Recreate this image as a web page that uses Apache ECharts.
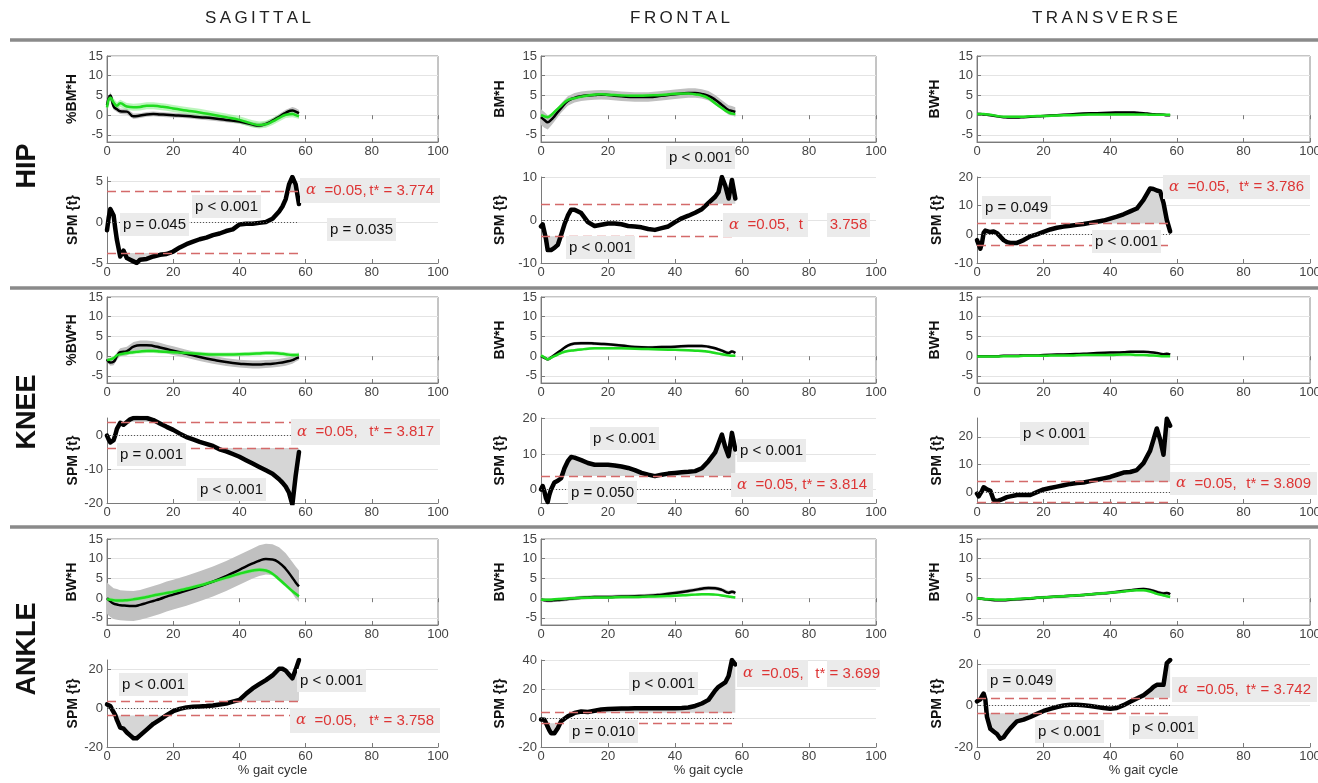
<!DOCTYPE html>
<html>
<head>
<meta charset="utf-8">
<script src="https://cdn.jsdelivr.net/npm/echarts@6.0.0/dist/echarts.min.js"></script>
<style>
html, body { margin: 0; padding: 0; background: #fff; }
#chart { width: 1318px; height: 783px; }
</style>
</head>
<body>
<div id="chart"></div>
<script>
// ---------- data ----------
const planes = ['SAGITTAL', 'FRONTAL', 'TRANSVERSE'];
const joints = ['HIP', 'KNEE', 'ANKLE'];
const momentUnits = [['%BM*H', 'BM*H', 'BW*H'], ['%BW*H', 'BW*H', 'BW*H'], ['BW*H', 'BW*H', 'BW*H']];
const momentTicks = [-5, 0, 5, 10, 15];

// % gait cycle samples for the moment curves
const momentX = [0, 1, 2, 3, 4, 6, 8, 10, 12, 14, 16, 18, 20, 24, 28, 32, 36, 40, 44, 46, 48, 50, 52, 54, 56, 57, 58];

const hipSagBlack   = [2.5, 5.0, 2.2, 1.5, 1.0, 0.9, -0.3, -0.1, 0.2, 0.3, 0.2, 0.1, 0.0, -0.2, -0.5, -0.8, -1.2, -1.6, -2.4, -2.6, -2.2, -1.4, -0.4, 0.6, 1.2, 0.9, 0.5];
const hipSagBlackSd = [0.8, 0.9, 0.8, 0.7, 0.7, 0.7, 0.7, 0.6, 0.6, 0.6, 0.6, 0.6, 0.6, 0.6, 0.6, 0.6, 0.6, 0.6, 0.6, 0.6, 0.6, 0.6, 0.7, 0.8, 0.9, 0.9, 0.8];
const hipSagGreen   = [2.0, 4.5, 3.2, 2.4, 3.0, 2.2, 2.0, 2.1, 2.4, 2.4, 2.2, 2.0, 1.7, 1.2, 0.7, 0.1, -0.5, -1.2, -2.2, -2.5, -2.3, -1.6, -0.7, 0.1, 0.3, 0.0, -0.3];
const hipSagGreenSd = [0.9, 1.0, 1.0, 0.9, 0.9, 0.9, 0.9, 0.9, 0.9, 0.9, 0.9, 0.9, 0.9, 0.9, 0.9, 0.9, 0.9, 0.9, 0.9, 0.9, 0.9, 0.9, 0.9, 0.8, 0.8, 0.7, 0.7];

const hipFrontBlack   = [-0.5, -1.2, -1.8, -1.2, -0.3, 1.8, 3.6, 4.4, 4.8, 5.0, 5.1, 5.2, 5.1, 4.8, 4.6, 4.6, 4.9, 5.3, 5.6, 5.6, 5.4, 4.9, 3.9, 2.6, 1.3, 1.1, 0.8];
const hipFrontBlackSd = [2.0, 2.0, 1.8, 1.5, 1.3, 1.2, 1.2, 1.2, 1.2, 1.2, 1.2, 1.2, 1.2, 1.2, 1.2, 1.2, 1.2, 1.2, 1.2, 1.2, 1.2, 1.2, 1.2, 1.2, 1.2, 1.2, 1.2];
const hipFrontGreen   = [0.0, -0.3, -0.5, 0.0, 0.8, 2.4, 3.8, 4.3, 4.7, 5.0, 5.2, 5.3, 5.2, 5.0, 4.9, 5.0, 5.1, 5.4, 5.5, 5.3, 5.0, 4.3, 3.0, 1.8, 0.7, 0.4, 0.3];
const hipFrontGreenSd = [0.4, 0.4, 0.4, 0.4, 0.4, 0.4, 0.4, 0.4, 0.4, 0.4, 0.4, 0.4, 0.4, 0.4, 0.4, 0.4, 0.4, 0.4, 0.4, 0.4, 0.4, 0.4, 0.4, 0.4, 0.4, 0.4, 0.4];

const hipTransBlack   = [0.3, 0.3, 0.2, 0.1, 0.0, -0.3, -0.5, -0.6, -0.6, -0.5, -0.4, -0.3, -0.2, 0.0, 0.2, 0.4, 0.5, 0.6, 0.7, 0.7, 0.6, 0.5, 0.3, 0.2, 0.1, 0.0, 0.0];
const hipTransBlackSd = [0.3, 0.3, 0.3, 0.3, 0.3, 0.3, 0.3, 0.3, 0.3, 0.3, 0.3, 0.3, 0.3, 0.3, 0.3, 0.3, 0.3, 0.3, 0.3, 0.3, 0.3, 0.3, 0.3, 0.3, 0.3, 0.3, 0.3];
const hipTransGreen   = [0.3, 0.3, 0.3, 0.2, 0.1, -0.2, -0.4, -0.4, -0.4, -0.4, -0.3, -0.2, -0.2, -0.1, 0.0, 0.1, 0.2, 0.2, 0.2, 0.2, 0.2, 0.2, 0.1, 0.1, 0.1, 0.1, 0.1];
const hipTransGreenSd = [0.25, 0.25, 0.25, 0.25, 0.25, 0.25, 0.25, 0.25, 0.25, 0.25, 0.25, 0.25, 0.25, 0.25, 0.25, 0.25, 0.25, 0.25, 0.25, 0.25, 0.25, 0.25, 0.25, 0.25, 0.25, 0.25, 0.25];

const kneeSagBlack   = [-0.8, -1.6, -1.4, 0.0, 1.0, 1.3, 2.4, 2.8, 2.8, 2.6, 2.2, 1.8, 1.4, 0.6, -0.2, -0.9, -1.5, -1.9, -2.1, -2.1, -2.0, -1.9, -1.7, -1.4, -1.0, -0.6, -0.3];
const kneeSagBlackSd = [0.6, 0.8, 0.9, 1.0, 1.0, 1.1, 1.2, 1.2, 1.2, 1.2, 1.2, 1.1, 1.1, 1.0, 1.0, 1.0, 1.0, 1.0, 1.0, 1.0, 1.0, 1.0, 1.0, 1.0, 0.9, 0.8, 0.7];
const kneeSagGreen   = [-1.0, -0.8, -0.5, 0.2, 0.5, 0.8, 1.0, 1.2, 1.3, 1.3, 1.2, 1.1, 1.0, 0.8, 0.6, 0.4, 0.4, 0.5, 0.6, 0.7, 0.8, 0.8, 0.7, 0.5, 0.3, 0.3, 0.4];
const kneeSagGreenSd = [0.5, 0.5, 0.5, 0.5, 0.5, 0.5, 0.5, 0.5, 0.5, 0.5, 0.5, 0.5, 0.5, 0.5, 0.5, 0.5, 0.5, 0.5, 0.5, 0.5, 0.5, 0.5, 0.5, 0.5, 0.5, 0.5, 0.5];

const kneeFrontBlack   = [0.0, -0.4, -0.8, -0.3, 0.3, 1.5, 2.7, 3.2, 3.3, 3.3, 3.2, 3.1, 3.0, 2.7, 2.3, 2.2, 2.3, 2.4, 2.6, 2.6, 2.6, 2.4, 2.0, 1.4, 0.8, 1.2, 0.8];
const kneeFrontBlackSd = [0.4, 0.4, 0.4, 0.4, 0.4, 0.4, 0.4, 0.4, 0.4, 0.4, 0.4, 0.4, 0.4, 0.4, 0.4, 0.4, 0.4, 0.4, 0.4, 0.4, 0.4, 0.4, 0.4, 0.4, 0.4, 0.4, 0.4];
const kneeFrontGreen   = [0.2, -0.3, -0.8, -0.4, 0.0, 0.8, 1.3, 1.5, 1.7, 1.9, 2.0, 2.0, 2.0, 2.0, 1.9, 1.8, 1.7, 1.6, 1.5, 1.4, 1.3, 1.1, 0.8, 0.5, 0.2, 0.1, 0.1];
const kneeFrontGreenSd = [0.3, 0.3, 0.3, 0.3, 0.3, 0.3, 0.3, 0.3, 0.3, 0.3, 0.3, 0.3, 0.3, 0.3, 0.3, 0.3, 0.3, 0.3, 0.3, 0.3, 0.3, 0.3, 0.3, 0.3, 0.3, 0.3, 0.3];

const kneeTransBlack   = [0.0, 0.0, 0.0, 0.0, 0.0, 0.0, 0.1, 0.1, 0.1, 0.2, 0.2, 0.2, 0.3, 0.4, 0.5, 0.6, 0.8, 0.9, 1.0, 1.1, 1.1, 1.1, 1.0, 0.8, 0.5, 0.6, 0.4];
const kneeTransBlackSd = [0.25, 0.25, 0.25, 0.25, 0.25, 0.25, 0.25, 0.25, 0.25, 0.25, 0.25, 0.25, 0.25, 0.25, 0.25, 0.25, 0.25, 0.25, 0.25, 0.25, 0.25, 0.25, 0.25, 0.25, 0.25, 0.25, 0.25];
const kneeTransGreen   = [-0.1, -0.1, -0.1, -0.1, -0.1, -0.1, 0.0, 0.0, 0.0, 0.1, 0.1, 0.1, 0.1, 0.2, 0.2, 0.3, 0.3, 0.3, 0.4, 0.4, 0.3, 0.3, 0.2, 0.1, 0.0, 0.0, 0.0];
const kneeTransGreenSd = [0.2, 0.2, 0.2, 0.2, 0.2, 0.2, 0.2, 0.2, 0.2, 0.2, 0.2, 0.2, 0.2, 0.2, 0.2, 0.2, 0.2, 0.2, 0.2, 0.2, 0.2, 0.2, 0.2, 0.2, 0.2, 0.2, 0.2];

const ankleSagBlack   = [0.0, -0.8, -1.4, -1.6, -1.8, -1.9, -2.0, -1.7, -1.2, -0.7, -0.2, 0.4, 0.9, 1.9, 3.0, 4.2, 5.6, 7.2, 8.8, 9.5, 9.9, 9.8, 9.0, 7.4, 5.2, 4.0, 3.0];
const ankleSagBlackSd = [4.0, 4.0, 3.9, 3.9, 3.8, 3.8, 3.8, 3.8, 3.8, 3.8, 3.8, 3.8, 3.8, 3.8, 3.8, 3.8, 3.8, 3.8, 3.8, 3.9, 3.9, 3.9, 3.9, 4.0, 4.0, 4.0, 4.0];
const ankleSagGreen   = [-0.3, -0.4, -0.5, -0.6, -0.6, -0.5, -0.3, 0.0, 0.3, 0.7, 1.0, 1.3, 1.6, 2.4, 3.2, 4.2, 5.2, 6.2, 7.0, 7.2, 7.0, 6.2, 4.8, 3.3, 1.8, 1.1, 0.5];
const ankleSagGreenSd = [0.5, 0.5, 0.5, 0.5, 0.5, 0.5, 0.5, 0.5, 0.5, 0.5, 0.5, 0.5, 0.5, 0.5, 0.5, 0.5, 0.5, 0.5, 0.5, 0.5, 0.5, 0.5, 0.5, 0.5, 0.5, 0.5, 0.5];

const ankleFrontBlack   = [-0.3, -0.5, -0.6, -0.6, -0.5, -0.4, -0.2, 0.0, 0.1, 0.2, 0.3, 0.3, 0.3, 0.4, 0.5, 0.6, 0.9, 1.3, 1.8, 2.1, 2.4, 2.6, 2.5, 2.1, 1.4, 1.6, 1.3];
const ankleFrontBlackSd = [0.5, 0.5, 0.5, 0.5, 0.5, 0.5, 0.5, 0.5, 0.5, 0.5, 0.5, 0.5, 0.5, 0.5, 0.5, 0.5, 0.5, 0.5, 0.5, 0.5, 0.5, 0.5, 0.5, 0.5, 0.5, 0.5, 0.5];
const ankleFrontGreen   = [-0.4, -0.4, -0.4, -0.4, -0.3, -0.2, -0.1, 0.0, 0.1, 0.1, 0.2, 0.2, 0.2, 0.3, 0.3, 0.4, 0.5, 0.6, 0.8, 0.9, 1.0, 1.0, 0.9, 0.7, 0.4, 0.3, 0.2];
const ankleFrontGreenSd = [0.3, 0.3, 0.3, 0.3, 0.3, 0.3, 0.3, 0.3, 0.3, 0.3, 0.3, 0.3, 0.3, 0.3, 0.3, 0.3, 0.3, 0.3, 0.3, 0.3, 0.3, 0.3, 0.3, 0.3, 0.3, 0.3, 0.3];

const ankleTransBlack   = [0.0, -0.1, -0.2, -0.3, -0.4, -0.5, -0.5, -0.4, -0.3, -0.2, -0.1, 0.1, 0.2, 0.4, 0.6, 0.8, 1.1, 1.4, 1.8, 2.0, 2.2, 2.3, 2.1, 1.6, 1.2, 1.3, 1.0];
const ankleTransBlackSd = [0.4, 0.4, 0.4, 0.4, 0.4, 0.4, 0.4, 0.4, 0.4, 0.4, 0.4, 0.4, 0.4, 0.4, 0.4, 0.4, 0.4, 0.4, 0.4, 0.4, 0.4, 0.4, 0.4, 0.4, 0.4, 0.4, 0.4];
const ankleTransGreen   = [0.0, -0.1, -0.2, -0.3, -0.3, -0.4, -0.4, -0.3, -0.2, -0.1, 0.0, 0.1, 0.2, 0.4, 0.6, 0.8, 1.1, 1.4, 1.7, 1.9, 2.0, 2.0, 1.7, 1.1, 0.7, 0.5, 0.3];
const ankleTransGreenSd = [0.3, 0.3, 0.3, 0.3, 0.3, 0.3, 0.3, 0.3, 0.3, 0.3, 0.3, 0.3, 0.3, 0.3, 0.3, 0.3, 0.3, 0.3, 0.3, 0.3, 0.3, 0.3, 0.3, 0.3, 0.3, 0.3, 0.3];

// % gait cycle samples for the SPM{t} curves
const spmX = [0, 0.5, 1, 1.5, 2, 2.5, 3, 4, 5, 6, 7, 8, 9, 10, 12, 14, 16, 18, 20, 22, 24, 26, 28, 30, 32, 34, 36, 38, 40, 42, 44, 46, 48, 50, 52, 53, 54, 55, 56, 57, 58];

const hipSagSpm    = [-1.0, 0.5, 1.6, 1.7, 0.8, -0.8, -2.2, -4.2, -3.5, -4.4, -4.6, -4.8, -5.0, -4.6, -4.5, -4.2, -4.0, -3.9, -3.6, -3.1, -2.7, -2.4, -2.1, -1.9, -1.6, -1.4, -1.1, -0.9, -0.3, -0.2, -0.2, -0.1, 0.0, 0.4, 1.3, 1.9, 2.8, 4.6, 5.5, 4.6, 2.2];
const hipFrontSpm  = [-1.5, -1.0, -1.3, -4.5, -7.0, -7.2, -7.0, -6.5, -5.8, -3.5, -1.0, 1.0, 2.4, 2.4, 1.6, -0.5, -1.4, -1.1, -0.8, -0.8, -1.0, -1.4, -1.5, -1.7, -2.1, -2.3, -1.9, -1.5, -0.5, 0.4, 1.0, 1.7, 2.5, 4.0, 5.4, 6.5, 10.0, 8.0, 5.0, 9.3, 5.0];
const hipTransSpm  = [-2.0, -3.5, -5.0, -3.0, 0.5, 1.3, 1.5, 0.8, 1.0, 0.4, -0.8, -2.0, -2.7, -3.0, -3.0, -2.0, -0.7, 0.0, 0.9, 1.7, 2.3, 2.7, 3.0, 3.3, 3.6, 4.0, 4.4, 4.8, 5.5, 6.2, 7.0, 8.0, 9.0, 12.0, 16.0, 15.8, 15.3, 15.0, 11.0, 5.0, 1.0];
const kneeSagSpm   = [-0.2, -1.3, -2.2, -2.0, -1.5, 0.0, 1.8, 3.6, 3.0, 3.8, 4.6, 5.0, 5.1, 5.0, 5.0, 4.4, 3.4, 2.4, 1.5, 0.4, -0.6, -1.3, -2.0, -2.6, -3.2, -4.2, -4.8, -5.6, -6.4, -7.4, -8.4, -9.4, -10.4, -11.4, -13.0, -14.0, -15.2, -17.0, -20.5, -12.0, -5.0];
const kneeFrontSpm = [0.0, 1.0, -0.5, -2.5, -3.5, -1.5, 0.0, 2.0, 2.5, 3.2, 6.0, 8.0, 9.2, 9.0, 8.3, 7.5, 7.0, 7.0, 7.0, 6.8, 6.5, 6.1, 5.5, 4.7, 4.2, 3.8, 4.2, 4.5, 4.7, 4.9, 5.0, 5.2, 6.0, 8.0, 10.5, 13.0, 15.5, 12.0, 9.4, 16.0, 11.3];
const kneeTransSpm = [-0.5, -1.5, -1.0, 0.5, 1.8, 1.3, 1.0, 0.5, -2.8, -3.2, -2.8, -2.3, -1.8, -1.5, -1.0, -1.0, -1.0, 0.0, 1.0, 1.5, 2.0, 2.5, 3.0, 3.3, 3.5, 4.0, 4.5, 5.0, 5.5, 6.3, 7.1, 7.3, 8.0, 10.5, 15.0, 19.0, 23.0, 19.0, 13.5, 26.5, 24.0];
const ankleSagSpm  = [2.0, 1.8, 1.2, -0.5, -2.0, -3.5, -6.0, -10.0, -10.5, -12.5, -14.0, -15.5, -15.5, -14.0, -11.0, -8.0, -5.8, -3.5, -1.5, -0.3, 0.5, 0.8, 1.0, 1.2, 1.5, 2.0, 2.5, 3.5, 4.4, 7.5, 10.3, 12.5, 14.6, 17.0, 20.5, 20.5, 19.5, 17.5, 15.5, 20.0, 25.0];
const ankleFrontSpm = [-1.0, -1.2, -1.2, -3.5, -6.0, -8.5, -10.5, -10.5, -7.0, -2.3, -0.5, 1.2, 2.3, 3.5, 4.5, 4.2, 5.0, 5.8, 6.2, 6.4, 6.5, 6.6, 6.7, 6.8, 6.8, 6.8, 6.8, 6.8, 6.8, 6.9, 7.2, 8.3, 10.0, 12.5, 19.0, 21.5, 23.0, 24.5, 29.0, 40.0, 37.0];
const ankleTransSpm = [2.0, 2.5, 3.0, 4.5, 5.8, 3.0, -5.5, -11.2, -12.5, -13.7, -16.0, -15.3, -13.0, -11.0, -7.6, -6.8, -5.5, -4.0, -2.6, -1.6, -0.7, 0.0, 0.4, 0.4, 0.2, -0.2, -0.7, -1.2, -1.5, -1.2, 0.2, 1.8, 3.4, 5.0, 7.5, 9.0, 10.0, 10.0, 10.0, 20.5, 22.0];

const thresholds = [3.774, 3.758, 3.786, 3.817, 3.814, 3.809, 3.758, 3.699, 3.742];
const spmRanges = [[-5, 5.5], [-10, 10], [-10, 20], [-20, 5], [-3.8, 20.2], [-3.9, 26.8], [-20, 25], [-20, 40], [-20, 22]];
const spmTicks = [[-5, 0, 5], [-10, 0, 10], [-10, 0, 10, 20], [-20, -10, 0], [0, 10, 20], [0, 10, 20], [-20, 0, 20], [-20, 0, 20, 40], [-20, 0, 20]];

const blackMeans = [hipSagBlack, hipFrontBlack, hipTransBlack, kneeSagBlack, kneeFrontBlack, kneeTransBlack, ankleSagBlack, ankleFrontBlack, ankleTransBlack];
const blackSds = [hipSagBlackSd, hipFrontBlackSd, hipTransBlackSd, kneeSagBlackSd, kneeFrontBlackSd, kneeTransBlackSd, ankleSagBlackSd, ankleFrontBlackSd, ankleTransBlackSd];
const greenMeans = [hipSagGreen, hipFrontGreen, hipTransGreen, kneeSagGreen, kneeFrontGreen, kneeTransGreen, ankleSagGreen, ankleFrontGreen, ankleTransGreen];
const greenSds = [hipSagGreenSd, hipFrontGreenSd, hipTransGreenSd, kneeSagGreenSd, kneeFrontGreenSd, kneeTransGreenSd, ankleSagGreenSd, ankleFrontGreenSd, ankleTransGreenSd];
const spmCurves = [hipSagSpm, hipFrontSpm, hipTransSpm, kneeSagSpm, kneeFrontSpm, kneeTransSpm, ankleSagSpm, ankleFrontSpm, ankleTransSpm];

// p-value labels per panel
const pTexts = [
  ['p < 0.001', 'p = 0.045', 'p = 0.035'],
  ['p < 0.001', 'p < 0.001'],
  ['p = 0.049', 'p < 0.001'],
  ['p = 0.001', 'p < 0.001'],
  ['p < 0.001', 'p < 0.001', 'p = 0.050'],
  ['p < 0.001'],
  ['p < 0.001', 'p < 0.001'],
  ['p < 0.001', 'p = 0.010'],
  ['p = 0.049', 'p < 0.001', 'p < 0.001']
];

// ---------- layout ----------
const FONT = '"Liberation Sans", Arial, sans-serif';
const colLeft = [107, 541, 977];
const colWidth = [331, 335, 333];
const momentTop = [56, 297, 539];
const spmTop = [177, 418, 660];
const spmHeight = [86, 85, 87];
const momentHeight = 86;
const momentNameGap = [28, 34, 35];
const spmNameGap = [27, 34, 33];
const titleX = [258, 680, 1105];
const rowLabelY = [166, 412, 649];
const separatorY = [40, 288, 527];

// p boxes: [x, y] top-left, same order as pTexts
const pBoxPos = [
  [[192, 195], [120, 213], [327, 218]],
  [[666, 146], [566, 236]],
  [[982, 196], [1092, 230]],
  [[117, 443], [197, 478]],
  [[590, 427], [737, 439], [568, 481]],
  [[1020, 422]],
  [[119, 673], [297, 669]],
  [[629, 672], [569, 720]],
  [[987, 669], [1035, 720], [1129, 716]]
];
// red threshold boxes: [x, y, w, h]; split boxes have a second part
const alphaBoxes = [
  [[300, 178, 140, 25]],
  [[723, 213, 85, 24], [827, 213, 43, 24]],
  [[1163, 175, 147, 24]],
  [[291, 419, 149, 26]],
  [[731, 473, 142, 24]],
  [[1170, 472, 147, 23]],
  [[290, 708, 150, 25]],
  [[737, 660, 71, 27], [827, 660, 53, 27]],
  [[1172, 677, 145, 25]]
];

const RED = '#dd3535';
const BOX = '#ebebeb';

const grids = [], xAxes = [], yAxes = [], series = [], graphics = [];

function baseXAxis(gridIndex, extra) {
  return Object.assign({
    gridIndex, type: 'value', min: 0, max: 100, interval: 20,
    axisLine: { show: true, onZero: false, lineStyle: { color: '#7a7a7a', width: 1 } },
    axisTick: { show: true, inside: true, length: 4, lineStyle: { color: '#7a7a7a' } },
    axisLabel: { color: '#444', fontSize: 13, margin: 3, fontFamily: FONT },
    splitLine: { show: false }
  }, extra || {});
}

// mean ± sd band as one polygon, placed through the axes with api.coord
function bandSeries(xi, yi, mean, sd, color) {
  return {
    type: 'custom', xAxisIndex: xi, yAxisIndex: yi, silent: true, z: 1, clip: true,
    data: [[0, 0]], encode: { x: 0, y: 1 },
    renderItem: function (params, api) {
      const upper = mean.map((m, i) => api.coord([momentX[i], m + sd[i]]));
      const lower = mean.map((m, i) => api.coord([momentX[i], m - sd[i]])).reverse();
      return { type: 'polygon', shape: { points: upper.concat(lower) }, style: { fill: color } };
    }
  };
}

for (let r = 0; r < 3; r++) {
  for (let c = 0; c < 3; c++) {
    const k = r * 3 + c;

    // ---- moment subplot ----
    const gi = grids.length;
    grids.push({ left: colLeft[c], top: momentTop[r], width: colWidth[c], height: momentHeight,
      show: true, borderColor: '#8a8a8a', borderWidth: 1, backgroundColor: 'transparent', outerBoundsMode: 'none' });
    const xi = xAxes.length;
    xAxes.push(baseXAxis(gi));
    xAxes.push(baseXAxis(gi, { position: 'top', axisLine: { show: false }, axisLabel: { show: false } }));
    const yi = yAxes.length;
    yAxes.push({
      gridIndex: gi, type: 'value', min: -6.8, max: 15,
      axisLine: { show: true, lineStyle: { color: '#7a7a7a' } },
      axisTick: { show: true, inside: true, length: 4, customValues: momentTicks, lineStyle: { color: '#7a7a7a' } },
      axisLabel: { customValues: momentTicks, color: '#444', fontSize: 13, margin: 4, fontFamily: FONT },
      splitLine: { show: true, lineStyle: { color: '#e4e4e4' } },
      name: momentUnits[r][c], nameLocation: 'middle', nameRotate: 90, nameGap: momentNameGap[c],
      nameTextStyle: { fontSize: 14, fontWeight: 'bold', color: '#111', fontFamily: FONT }
    });
    series.push(bandSeries(xi, yi, blackMeans[k], blackSds[k], 'rgb(192,192,192)'));
    series.push(bandSeries(xi, yi, greenMeans[k], greenSds[k], 'rgba(120,235,120,0.5)'));
    series.push({ type: 'line', xAxisIndex: xi, yAxisIndex: yi, symbol: 'none', smooth: true, z: 3,
      data: blackMeans[k].map((v, i) => [momentX[i], v]), lineStyle: { color: '#000', width: 2.5 } });
    series.push({ type: 'line', xAxisIndex: xi, yAxisIndex: yi, symbol: 'none', smooth: true, z: 4,
      data: greenMeans[k].map((v, i) => [momentX[i], v]), lineStyle: { color: '#1fdc1f', width: 2.5 } });

    // ---- SPM{t} subplot ----
    const gs = grids.length;
    grids.push({ left: colLeft[c], top: spmTop[r], width: colWidth[c], height: spmHeight[r], outerBoundsMode: 'none' });
    const xs = xAxes.length;
    xAxes.push(baseXAxis(gs, r === 2 ? {
      name: '% gait cycle', nameLocation: 'middle', nameGap: 16,
      nameTextStyle: { fontSize: 13, color: '#333', fontFamily: FONT }
    } : {}));
    const ys = yAxes.length;
    yAxes.push({
      gridIndex: gs, type: 'value', min: spmRanges[k][0], max: spmRanges[k][1],
      axisLine: { show: true, lineStyle: { color: '#7a7a7a' } },
      axisTick: { show: true, inside: true, length: 4, customValues: spmTicks[k], lineStyle: { color: '#7a7a7a' } },
      axisLabel: { customValues: spmTicks[k], color: '#444', fontSize: 13, margin: 4, fontFamily: FONT },
      splitLine: { show: true, lineStyle: { color: '#e4e4e4' } },
      name: 'SPM {t}', nameLocation: 'middle', nameRotate: 90, nameGap: spmNameGap[c],
      nameTextStyle: { fontSize: 14, fontWeight: 'bold', color: '#111', fontFamily: FONT }
    });
    const thr = thresholds[k];
    const curve = spmCurves[k];
    const xEnd = spmX[spmX.length - 1];
    series.push({ type: 'line', xAxisIndex: xs, yAxisIndex: ys, symbol: 'none', silent: true, z: 1,
      data: curve.map((v, i) => [spmX[i], Math.max(v, thr)]),
      lineStyle: { width: 0, opacity: 0 }, areaStyle: { color: '#d6d6d6', opacity: 1, origin: thr } });
    series.push({ type: 'line', xAxisIndex: xs, yAxisIndex: ys, symbol: 'none', silent: true, z: 1,
      data: curve.map((v, i) => [spmX[i], Math.min(v, -thr)]),
      lineStyle: { width: 0, opacity: 0 }, areaStyle: { color: '#d6d6d6', opacity: 1, origin: -thr },
      markLine: {
        silent: true, symbol: 'none', label: { show: false }, animation: false,
        data: [
          [{ coord: [0, thr], lineStyle: { color: '#d46a6a', width: 1.3, type: [9, 5] } }, { coord: [xEnd, thr] }],
          [{ coord: [0, -thr], lineStyle: { color: '#d46a6a', width: 1.3, type: [9, 5] } }, { coord: [xEnd, -thr] }],
          [{ coord: [0, 0], lineStyle: { color: '#555', width: 1, type: [1, 2] } }, { coord: [xEnd, 0] }]
        ]
      } });
    series.push({ type: 'line', xAxisIndex: xs, yAxisIndex: ys, symbol: 'none', z: 3,
      data: curve.map((v, i) => [spmX[i], v]),
      lineStyle: { color: '#000', width: 4.5, cap: 'round', join: 'round' } });

    // ---- annotation boxes ----
    pTexts[k].forEach((t, j) => {
      const [bx, by] = pBoxPos[k][j];
      graphics.push({ type: 'rect', z: 100, shape: { x: bx, y: by, width: 69, height: 23 }, style: { fill: BOX } });
      graphics.push({ type: 'text', z: 101, x: bx + 34.5, y: by + 12,
        style: { text: t, font: '15px ' + FONT, fill: '#111', textAlign: 'center', textVerticalAlign: 'middle' } });
    });
    const tStr = 't* = ' + thr.toFixed(3);
    const parts = alphaBoxes[k];
    parts.forEach(([bx, by, bw, bh]) => {
      graphics.push({ type: 'rect', z: 100, shape: { x: bx, y: by, width: bw, height: bh }, style: { fill: BOX } });
    });
    const [ax, ay, aw, ah] = parts[0];
    graphics.push({ type: 'text', z: 101, x: ax + 6, y: ay + ah / 2,
      style: { text: '{a|α}  =0.05,', font: '15px ' + FONT, fill: RED, textAlign: 'left', textVerticalAlign: 'middle',
        rich: { a: { fontFamily: '"DejaVu Serif", serif', fontStyle: 'italic', fontSize: 15, fill: RED, color: RED } } } });
    if (parts.length === 1) {
      graphics.push({ type: 'text', z: 101, x: ax + aw - 6, y: ay + ah / 2,
        style: { text: tStr, font: '15px ' + FONT, fill: RED, textAlign: 'right', textVerticalAlign: 'middle' } });
    } else {
      const [bx2, by2, bw2, bh2] = parts[1];
      if (k === 1) {
        graphics.push({ type: 'text', z: 101, x: ax + aw - 5, y: ay + ah / 2,
          style: { text: 't', font: '15px ' + FONT, fill: RED, textAlign: 'right', textVerticalAlign: 'middle' } });
        graphics.push({ type: 'text', z: 101, x: bx2 + bw2 / 2, y: by2 + bh2 / 2,
          style: { text: thr.toFixed(3), font: '15px ' + FONT, fill: RED, textAlign: 'center', textVerticalAlign: 'middle' } });
      } else {
        graphics.push({ type: 'text', z: 101, x: bx2 + bw2, y: by2 + bh2 / 2,
          style: { text: tStr, font: '15px ' + FONT, fill: RED, textAlign: 'right', textVerticalAlign: 'middle' } });
      }
    }
  }
}

// titles, row labels, separators
planes.forEach((p, c) => {
  graphics.push({ type: 'text', z: 101, x: titleX[c], y: 18,
    style: { text: p.split('').join('\u2009'), font: '17px ' + FONT, fill: '#222', textAlign: 'center', textVerticalAlign: 'middle' } });
});
joints.forEach((j, r) => {
  graphics.push({ type: 'text', z: 101, x: 28, y: rowLabelY[r], rotation: Math.PI / 2,
    style: { text: j, font: 'bold 27px ' + FONT, fill: '#111', textAlign: 'center', textVerticalAlign: 'middle' } });
});
separatorY.forEach((y) => {
  graphics.push({ type: 'line', z: 100, shape: { x1: 10, y1: y, x2: 1318, y2: y }, style: { stroke: '#8a8a8a', lineWidth: 3.5 } });
});

const chart = echarts.init(document.getElementById('chart'), null, { renderer: 'canvas' });
chart.setOption({
  animation: false,
  backgroundColor: '#fff',
  grid: grids,
  xAxis: xAxes,
  yAxis: yAxes,
  series: series,
  graphic: graphics
});
</script>
</body>
</html>
